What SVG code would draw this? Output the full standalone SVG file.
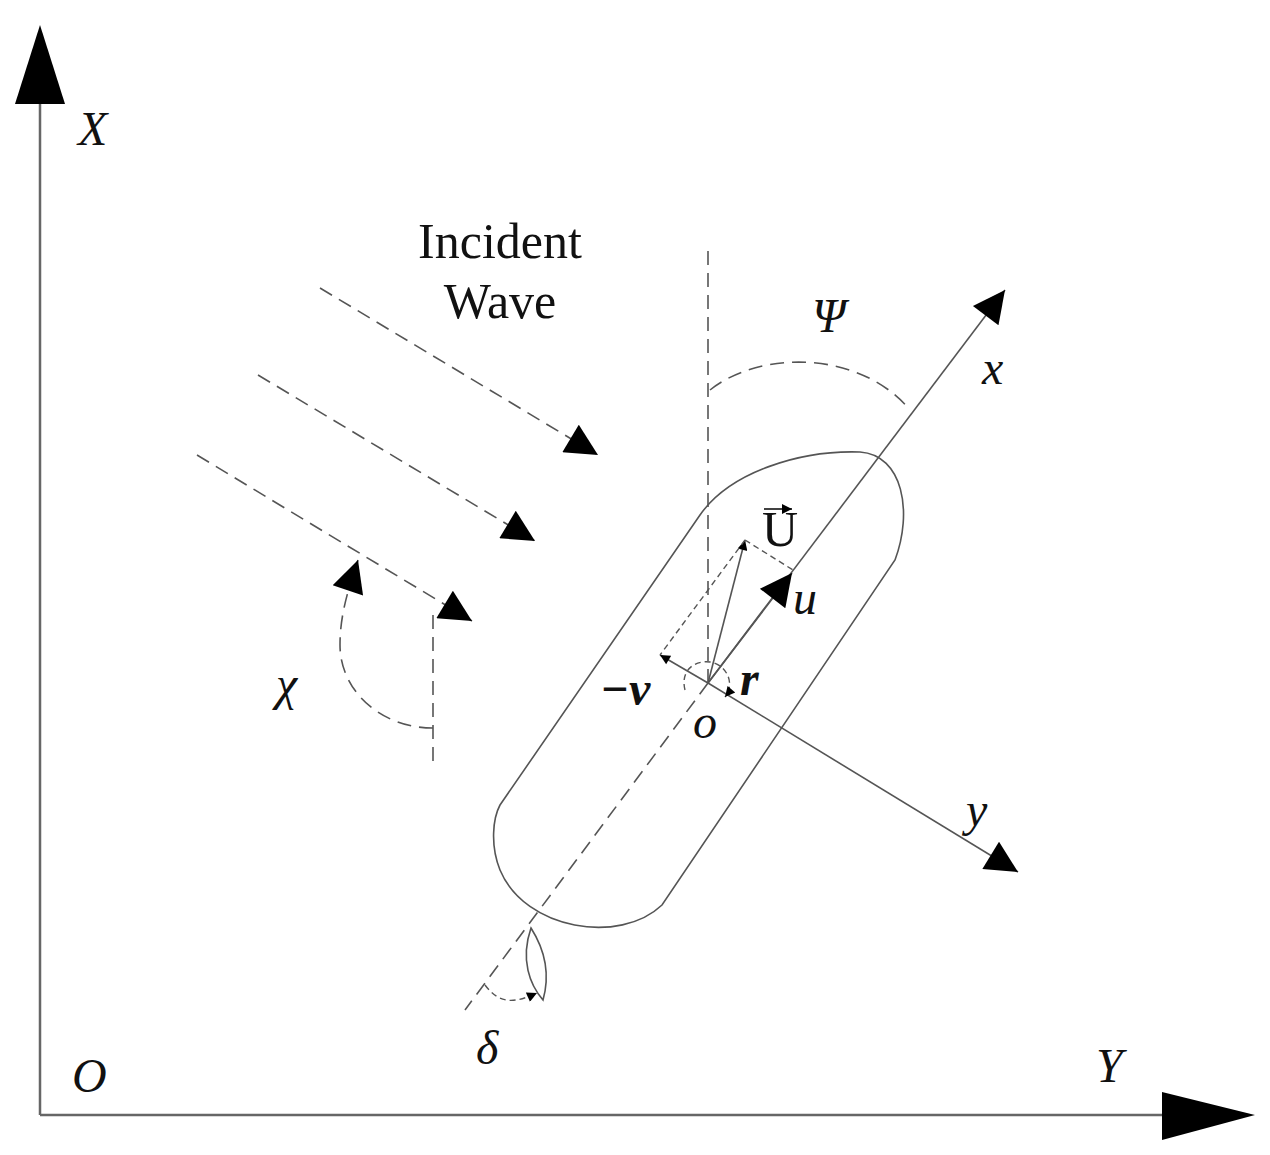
<svg xmlns="http://www.w3.org/2000/svg" width="1270" height="1155" viewBox="0 0 1270 1155">
<defs>
<style>
.l{fill:none;stroke:#555;stroke-width:1.6}
.d{fill:none;stroke:#555;stroke-width:1.6;stroke-dasharray:14 8}
.ds{fill:none;stroke:#555;stroke-width:1.4;stroke-dasharray:6 4}
.ax{fill:none;stroke:#666;stroke-width:2.5}
.t{font-family:"Liberation Serif",serif;font-style:italic;font-size:48px;fill:#111}
.n{font-family:"Liberation Serif",serif;font-size:50px;fill:#111}
</style>
<marker id="big" viewBox="0 0 10 10" refX="10" refY="5" markerWidth="46" markerHeight="32" markerUnits="userSpaceOnUse" orient="auto"><path d="M0,0L10,5L0,10Z" fill="#000"/></marker>
<marker id="sm" viewBox="0 0 10 10" refX="10" refY="5" markerWidth="16" markerHeight="10" markerUnits="userSpaceOnUse" orient="auto"><path d="M0,0L10,5L0,10Z" fill="#000"/></marker>
</defs>
<g id="axes">
<line class="ax" x1="40" y1="1115" x2="40" y2="104"/>
<path d="M40,25L65,104L15,104Z" fill="#000"/>
<line class="ax" x1="40" y1="1115" x2="1162" y2="1115"/>
<path d="M1255,1115L1162,1092L1162,1140Z" fill="#000"/>
<text class="t" x="78" y="145">X</text>
<text class="t" x="72" y="1092">O</text>
<text class="t" x="1096" y="1082">Y</text>
</g>
<g id="ship">
<path class="l" d="M500,805 L700,515 C730,472 800,450 860,452 C903,455 913,512 895,560 L662,905 C620,945 525,930 500,870 C490,845 493,818 500,805Z"/>
</g>
<g id="rudder">
<path class="l" d="M531,928 C520,960 530,985 543,1000 C550,975 545,950 531,928Z"/>
<path class="ds" d="M485,985 C500,1005 515,1003 537,993" marker-end="url(#sm)"/>
<text class="t" x="476" y="1064">δ</text>
</g>
<g id="connectors">
<line class="l" x1="708" y1="683" x2="1005" y2="290" marker-end="url(#big)"/>
<line class="l" x1="708" y1="683" x2="1018" y2="872" marker-end="url(#big)"/>
<line class="d" x1="708" y1="683" x2="465" y2="1010"/>
<line class="d" x1="708" y1="683" x2="708" y2="245"/>
<path class="d" d="M710,390 C760,350 860,350 910,410"/>
<line class="d" x1="320" y1="288" x2="598" y2="455" marker-end="url(#big)"/>
<line class="d" x1="258" y1="375" x2="535" y2="541" marker-end="url(#big)"/>
<line class="d" x1="197" y1="455" x2="472" y2="621" marker-end="url(#big)"/>
<line class="d" x1="433" y1="615" x2="433" y2="768"/>
<path class="d" d="M433,728 C380,728 340,690 340,645 C340,615 348,590 358,560" marker-end="url(#big)"/>
<line class="l" x1="708" y1="683" x2="745" y2="540" marker-end="url(#sm)"/>
<line class="l" x1="708" y1="683" x2="792" y2="573" marker-end="url(#big)"/>
<line class="l" x1="708" y1="683" x2="660" y2="655" marker-end="url(#sm)"/>
<line class="ds" x1="745" y1="540" x2="793" y2="570"/>
<line class="ds" x1="745" y1="540" x2="660" y2="655"/>
<path class="ds" d="M685,690 C680,670 695,660 710,662 C728,665 735,685 725,697" marker-end="url(#sm)"/>
<line x1="764" y1="509" x2="792" y2="509" stroke="#111" stroke-width="1.6" marker-end="url(#sm)"/>
</g>
<g id="labels">
<text class="n" x="500" y="258" text-anchor="middle">Incident</text>
<text class="n" x="500" y="318" text-anchor="middle">Wave</text>
<text class="t" x="812" y="332">Ψ</text>
<text class="t" x="982" y="384">x</text>
<text class="t" x="966" y="826">y</text>
<text class="n" x="762" y="546" font-size="36">U</text>
<text class="t" x="793" y="614">u</text>
<text class="t" x="740" y="695" font-weight="bold" font-size="54">r</text>
<text class="t" x="600" y="705" font-weight="bold">−v</text>
<text class="t" x="693" y="738">o</text>
<text class="t" x="276" y="700">χ</text>
</g>
</svg>
